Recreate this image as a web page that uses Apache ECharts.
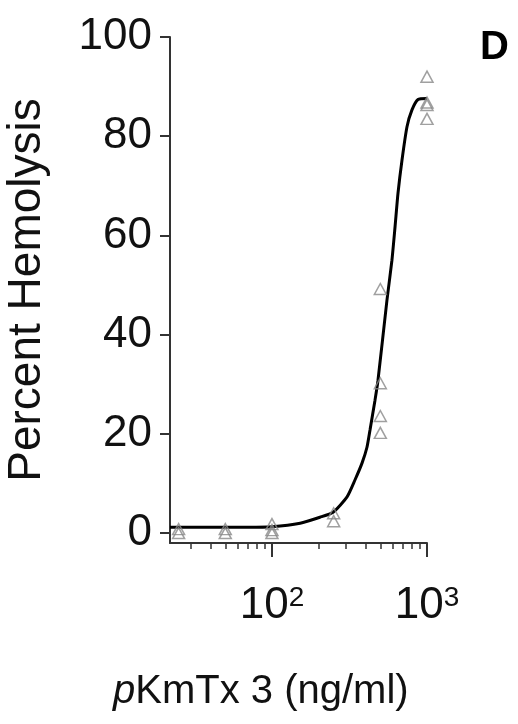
<!DOCTYPE html>
<html>
<head>
<meta charset="utf-8">
<script src="https://cdn.jsdelivr.net/npm/echarts@6/dist/echarts.min.js"></script>
<style>html,body{margin:0;padding:0;background:#fff;}#c{width:518px;height:724px;}</style>
</head>
<body>
<div id="c"></div>
<script>
// Data
const pointConc = [25, 25, 50, 50, 100, 100, 100, 250, 250, 500, 500, 500, 500, 1000, 1000, 1000, 1000];
const pointHemolysis = [0.8, 0.0, 0.8, 0.0, 1.8, 0.6, 0.0, 4.0, 2.4, 49.2, 30.2, 23.6, 20.2, 92.0, 86.8, 86.3, 83.5];
const curveConc = [22, 40, 70, 100, 152, 204, 248, 305, 343, 381, 410, 429, 462, 483, 552, 594, 622, 650, 690, 743, 800, 875, 1000];
const curveHemolysis = [1.2, 1.2, 1.2, 1.3, 2.0, 3.2, 4.2, 7.3, 10.7, 14.1, 17.3, 20.8, 26.8, 30.8, 47.0, 55.0, 61.7, 68.5, 75.2, 81.9, 85.3, 87.4, 87.6];
const yTicks = [0, 20, 40, 60, 80, 100];
const xMajorTicks = [100, 1000];
const xMinorTicks = [30, 40, 50, 60, 70, 80, 90, 200, 300, 400, 500, 600, 700, 800, 900];
const xTitle = 'pKmTx 3 (ng/ml)';
const yTitle = 'Percent Hemolysis';
const panelLabel = 'D';

const FONT = 'Liberation Sans';
const AX = '#333';
const chart = echarts.init(document.getElementById('c'), null, {renderer: 'canvas'});
const logBounds = {min: 22, max: 1000};

chart.setOption({
  animation: false,
  backgroundColor: '#fff',
  title: [
    {
      text: '{i|p}KmTx 3 (ng/ml)',
      left: 108, top: 667,
      textStyle: {
        fontFamily: FONT, fontSize: 40, fontWeight: 'normal', color: '#111',
        rich: { i: {fontFamily: FONT, fontSize: 40, fontStyle: 'italic', color: '#111'} }
      }
    },
    {
      text: panelLabel,
      left: 475, top: 23,
      textStyle: {fontFamily: FONT, fontSize: 40, fontWeight: 'bold', color: '#000'}
    }
  ],
  grid: {left: 170, right: 91, top: 37, bottom: 181},
  xAxis: [
    {
      type: 'log', logBase: 10, min: logBounds.min, max: logBounds.max,
      axisLine: {show: true, onZero: false, lineStyle: {color: AX, width: 2}},
      axisTick: {show: true, length: 14, lineStyle: {color: AX, width: 2}, customValues: xMajorTicks},
      axisLabel: {
        show: true, margin: 41, customValues: xMajorTicks,
        formatter: v => '{b|10}{s|' + Math.round(Math.log10(v)) + '}',
        rich: {
          b: {fontFamily: FONT, fontSize: 44, color: '#111'},
          s: {fontFamily: FONT, fontSize: 28, color: '#111', verticalAlign: 'top'}
        }
      },
      splitLine: {show: false}, minorTick: {show: false}
    },
    {
      type: 'log', logBase: 10, min: logBounds.min, max: logBounds.max, position: 'bottom',
      axisLine: {show: false, onZero: false},
      axisTick: {show: true, length: 6, lineStyle: {color: AX, width: 1.5}, customValues: xMinorTicks},
      axisLabel: {show: false},
      splitLine: {show: false}
    }
  ],
  yAxis: {
    type: 'value', min: -2, max: 100,
    name: yTitle, nameLocation: 'middle', nameGap: 120,
    nameTextStyle: {fontFamily: FONT, fontSize: 46, color: '#111'},
    axisLine: {show: true, lineStyle: {color: AX, width: 2}},
    axisTick: {show: true, length: 10, lineStyle: {color: AX, width: 2}, customValues: yTicks},
    axisLabel: {show: true, margin: 18, fontFamily: FONT, fontSize: 44, color: '#111', customValues: yTicks},
    splitLine: {show: false}
  },
  series: [
    {
      type: 'line', xAxisIndex: 0,
      data: curveConc.map((c, i) => [c, curveHemolysis[i]]),
      showSymbol: false, symbol: 'none', smooth: 0.2,
      lineStyle: {color: '#000', width: 3},
      z: 3
    },
    {
      type: 'scatter', xAxisIndex: 0,
      data: pointConc.map((c, i) => [c, pointHemolysis[i]]),
      symbol: 'triangle', symbolSize: [12, 11],
      itemStyle: {color: 'rgba(255,255,255,0)', borderColor: '#888', borderWidth: 1.5},
      z: 4
    }
  ]
});
</script>
</body>
</html>
